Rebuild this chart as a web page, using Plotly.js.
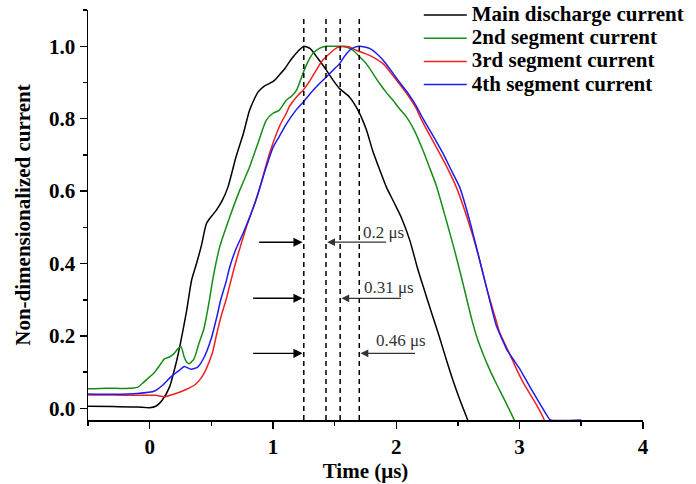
<!DOCTYPE html>
<html><head><meta charset="utf-8">
<script src="https://cdn.plot.ly/plotly-3.0.1.min.js"></script>
<style>html,body{margin:0;padding:0;background:#fff}</style>
</head><body><div id="chart" style="width:696px;height:484px"></div>
<script>
const seriesNames = ['Main discharge current','2nd segment current','3rd segment current','4th segment current'];
const seriesColors = ['#000000','#178c17','#f02020','#1c1cf0'];

const mainX = [-0.5,-0.3,-0.1,0.0,0.05,0.1,0.16,0.22,0.25,0.3,0.34,0.38,0.42,0.46,0.50,0.54,0.59,0.635,0.70,0.76,0.81,0.85,0.88,0.93,0.97,1.01,1.05,1.1,1.15,1.2,1.25,1.3,1.365,1.433,1.49,1.54,1.62,1.69,1.757,1.81,1.87,1.92,1.98,2.04,2.11,2.17,2.22,2.29,2.35,2.41,2.46,2.52,2.57,2.62];
const mainY = [0.006,0.005,0.004,0.002,0.006,0.022,0.058,0.133,0.18,0.27,0.354,0.40,0.45,0.51,0.53,0.547,0.575,0.611,0.694,0.759,0.823,0.855,0.874,0.89,0.897,0.905,0.92,0.94,0.965,0.985,1.0,0.994,0.966,0.934,0.905,0.883,0.86,0.823,0.77,0.71,0.655,0.611,0.57,0.528,0.464,0.39,0.335,0.26,0.197,0.13,0.077,0.02,-0.024,-0.07];

const seg2X = [-0.5,-0.35,-0.2,-0.1,-0.05,0.0,0.04,0.08,0.12,0.16,0.2,0.23,0.255,0.28,0.3,0.32,0.36,0.40,0.44,0.48,0.514,0.568,0.649,0.73,0.811,0.879,0.946,1.0,1.05,1.108,1.15,1.19,1.243,1.28,1.324,1.38,1.433,1.49,1.541,1.6,1.649,1.7,1.757,1.81,1.865,1.92,1.973,2.03,2.082,2.15,2.217,2.27,2.325,2.406,2.474,2.541,2.609,2.66,2.703,2.76,2.812,2.88,2.946,2.98];
const seg2Y = [0.054,0.056,0.055,0.058,0.072,0.087,0.1,0.118,0.137,0.142,0.152,0.165,0.17,0.142,0.128,0.123,0.137,0.18,0.22,0.29,0.36,0.446,0.528,0.602,0.667,0.733,0.796,0.815,0.823,0.851,0.862,0.878,0.925,0.955,0.98,0.995,1.0,1.0,1.0,0.997,0.989,0.972,0.952,0.925,0.897,0.872,0.851,0.826,0.805,0.765,0.712,0.665,0.615,0.519,0.435,0.345,0.25,0.19,0.151,0.105,0.068,0.022,-0.024,-0.05];

const seg3X = [-0.5,-0.3,-0.1,0.05,0.12,0.2,0.3,0.37,0.42,0.46,0.51,0.54,0.58,0.62,0.66,0.703,0.784,0.879,0.973,1.054,1.108,1.135,1.203,1.243,1.3,1.351,1.40,1.46,1.52,1.568,1.62,1.676,1.73,1.784,1.892,2.028,2.1,2.163,2.2,2.27,2.352,2.42,2.487,2.582,2.663,2.731,2.812,2.838,2.92,2.98,3.04,3.12,3.19,3.22];
const seg3Y = [0.037,0.037,0.036,0.036,0.032,0.04,0.053,0.066,0.085,0.11,0.155,0.2,0.255,0.30,0.354,0.409,0.50,0.593,0.705,0.78,0.815,0.835,0.865,0.878,0.905,0.934,0.96,0.98,0.996,1.0,0.998,0.989,0.982,0.975,0.952,0.895,0.862,0.828,0.80,0.755,0.704,0.66,0.611,0.519,0.427,0.335,0.24,0.21,0.15,0.105,0.065,0.02,-0.024,-0.05];

const seg4X = [-0.5,-0.3,-0.1,0.04,0.105,0.173,0.24,0.281,0.335,0.389,0.443,0.497,0.55,0.575,0.62,0.649,0.70,0.757,0.852,0.946,1.0,1.05,1.108,1.19,1.243,1.324,1.38,1.433,1.49,1.541,1.58,1.622,1.66,1.703,1.784,1.84,1.892,1.96,2.028,2.1,2.163,2.217,2.3,2.379,2.45,2.514,2.595,2.663,2.731,2.812,2.86,2.9,2.95,3.0,3.05,3.109,3.17,3.23,3.25,3.5];
const seg4Y = [0.04,0.039,0.041,0.048,0.064,0.087,0.105,0.116,0.108,0.114,0.142,0.19,0.26,0.298,0.35,0.39,0.44,0.483,0.565,0.667,0.72,0.75,0.785,0.825,0.845,0.878,0.898,0.915,0.935,0.952,0.972,0.989,0.997,1.0,0.994,0.98,0.962,0.932,0.9,0.868,0.835,0.80,0.752,0.704,0.655,0.611,0.519,0.427,0.335,0.228,0.19,0.16,0.135,0.11,0.08,0.045,0.01,-0.024,-0.032,-0.032];

const peakTimes = [1.25, 1.43, 1.545, 1.70];
const delayLabels = ['0.2 μs', '0.31 μs', '0.46 μs'];
const xTickVals = [0, 1, 2, 3, 4];
const yTickVals = [0.0, 0.2, 0.4, 0.6, 0.8, 1.0];
const yTickText = ['0.0', '0.2', '0.4', '0.6', '0.8', '1.0'];

const xs = [mainX, seg2X, seg3X, seg4X];
const ys = [mainY, seg2Y, seg3Y, seg4Y];

const FONT = 'Liberation Serif, Times New Roman, serif';

const traces = seriesNames.map((n, i) => ({
  type: 'scatter', mode: 'lines', x: xs[i], y: ys[i],
  name: '<span style="font-size:21px">' + n + '</span>',
  line: {color: seriesColors[i], width: 1.5, shape: 'spline', smoothing: 0.6}
}));

// annotation geometry
const arrowY = [0.459, 0.304, 0.152];
const leftTail = [0.876, 0.827, 0.827];
const rightTail = [1.93, 2.05, 2.165];
const labelX = [1.715, 1.72, 1.82];
const labelY = [0.485, 0.333, 0.187];

const annotations = [];
for (let i = 0; i < 3; i++) {
  annotations.push({x: peakTimes[0] - 0.01, y: arrowY[i], ax: leftTail[i], ay: arrowY[i],
    xref: 'x', yref: 'y', axref: 'x', ayref: 'y', text: '', showarrow: true,
    arrowhead: 2, arrowsize: 1.3, arrowwidth: 1.4, arrowcolor: '#000'});
  annotations.push({x: peakTimes[i + 1] + 0.01, y: arrowY[i], ax: rightTail[i], ay: arrowY[i],
    xref: 'x', yref: 'y', axref: 'x', ayref: 'y', text: '', showarrow: true,
    arrowhead: 2, arrowsize: 1.3, arrowwidth: 1.2, arrowcolor: '#333'});
  annotations.push({x: labelX[i], y: labelY[i], xref: 'x', yref: 'y', text: delayLabels[i],
    showarrow: false, xanchor: 'left', yanchor: 'middle',
    font: {family: FONT, size: 17, color: '#333'}});
}

const shapes = peakTimes.map(t => ({
  type: 'line', xref: 'x', yref: 'y', x0: t, x1: t, y0: -0.032, y1: 1.086,
  line: {color: '#000', width: 1.5, dash: '5px,4px'}
}));

const axisCommon = {
  showline: true, linecolor: '#000', linewidth: 1.5, mirror: false,
  ticks: 'outside', ticklen: 7, tickwidth: 1.5, tickcolor: '#000',
  showgrid: false, zeroline: false,
  tickfont: {family: FONT, size: 21, color: '#000', weight: 'bold'}
};

const layout = {
  width: 696, height: 484,
  margin: {l: 88, r: 53, t: 10, b: 64, autoexpand: false},
  paper_bgcolor: '#fff', plot_bgcolor: '#fff',
  font: {family: FONT, color: '#000'},
  showlegend: true,
  legend: {x: 0.596, xanchor: 'left', y: 1.028, yanchor: 'top', itemwidth: 43,
    bgcolor: 'rgba(0,0,0,0)',
    font: {family: FONT, size: 15.5, color: '#000', weight: 'bold'}},
  xaxis: Object.assign({}, axisCommon, {
    range: [-0.5, 4.001], tickvals: xTickVals,
    minor: {dtick: 0.5, tick0: 0, ticks: 'outside', ticklen: 4, tickwidth: 1.5, tickcolor: '#000'},
    title: {text: 'Time (μs)', standoff: 2, font: {family: FONT, size: 21, color: '#000', weight: 'bold'}}
  }),
  yaxis: Object.assign({}, axisCommon, {
    range: [-0.032, 1.1001], tickvals: yTickVals, ticktext: yTickText,
    minor: {dtick: 0.1, tick0: 0, ticks: 'outside', ticklen: 4, tickwidth: 1.5, tickcolor: '#000'},
    title: {text: 'Non-dimensionalized current', standoff: 12, font: {family: FONT, size: 21, color: '#000', weight: 'bold'}}
  }),
  annotations: annotations,
  shapes: shapes
};

Plotly.newPlot('chart', traces, layout, {displayModeBar: false, staticPlot: true});
</script></body></html>
